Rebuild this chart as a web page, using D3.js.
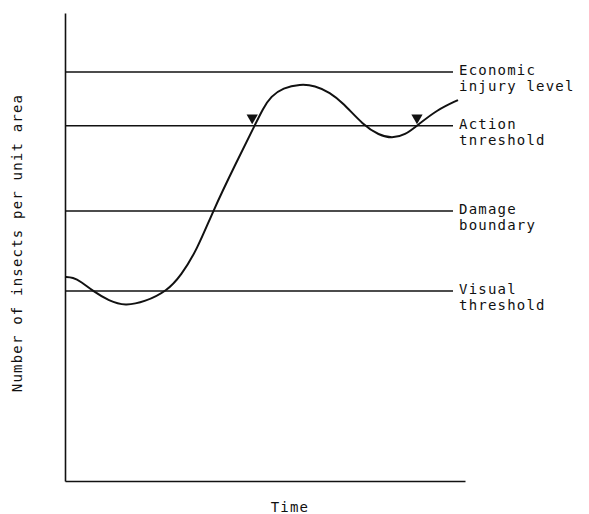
<!DOCTYPE html>
<meta charset="utf-8">
<script src="https://d3js.org/d3.v7.min.js"></script>
<style>
  body { margin: 0; background: #fff; }
  text { font-family: "DejaVu Sans Mono", monospace; font-size: 14px; letter-spacing: 1.2px; fill: #111; }
</style>
<div id="chart"></div>
<script>

    // threshold levels (number of insects, arbitrary units 0-100)
    var levelNames = [["Economic", "injury level"], ["Action", "tnreshold"], ["Damage", "boundary"], ["Visual", "threshold"]];
    var levelValues = [87.4, 75.9, 57.7, 40.6];

    // population curve over time (0-100)
    var timeValues = [0, 2, 4, 7, 11, 15, 20, 25.5, 29, 33, 37, 42.5, 47.5, 49.5, 51.5, 54.5, 58.75, 62.5, 66.25, 69.5, 74.5, 78.5, 81.75, 85, 88.25, 93, 98.25];
    var insectValues = [43.6, 43.5, 42.6, 40.6, 38.5, 37.4, 38.3, 40.6, 43.9, 49.4, 57.7, 67.5, 76.1, 79.6, 82.2, 84, 84.8, 84.5, 83, 80.8, 76.1, 73.9, 73.2, 73.9, 76.1, 79.3, 81.4];

    // times where action threshold is crossed (arrow markers)
    var markerTimes = [46.8, 88];

    var lineEnd = 97;

    var svg = d3.select("#chart")
        .append("svg")
            .attr("width", 589)
            .attr("height", 514);

    var x = d3.scaleLinear()
        .domain([0, 100])
        .range([65, 465]);

    var y = d3.scaleLinear()
        .domain([0, 100])
        .range([481, 13]);

    // axes, no ticks
    svg.append("g")
        .attr("transform", "translate(65,0)")
        .call(d3.axisLeft(y).tickValues([]).tickSizeOuter(0))
        .select(".domain").attr("stroke", "#111").attr("stroke-width", 1.6);

    svg.append("g")
        .attr("transform", "translate(0,481)")
        .call(d3.axisBottom(x).tickValues([]).tickSizeOuter(0))
        .select(".domain").attr("stroke", "#111").attr("stroke-width", 1.6);

    // horizontal level lines
    svg.selectAll(".level")
        .data(levelValues)
        .enter()
        .append("line")
            .attr("class", "level")
            .attr("x1", x(0))
            .attr("x2", x(lineEnd))
            .attr("y1", function(d) { return y(d) })
            .attr("y2", function(d) { return y(d) })
            .attr("stroke", "#111")
            .attr("stroke-width", 1.4);

    // labels
    var labels = svg.selectAll(".lab")
        .data(levelValues)
        .enter()
        .append("text")
            .attr("class", "lab")
            .attr("x", x(lineEnd) + 6)
            .attr("y", function(d) { return y(d) + 3 });
    labels.append("tspan")
        .text(function(d, i) { return levelNames[i][0] });
    labels.append("tspan")
        .attr("x", x(lineEnd) + 6)
        .attr("dy", 16)
        .text(function(d, i) { return levelNames[i][1] });

    // population curve
    var pts = timeValues.map(function(t, i) { return [t, insectValues[i]] });
    svg.append("path")
        .datum(pts)
        .attr("d", d3.line()
            .x(function(d) { return x(d[0]) })
            .y(function(d) { return y(d[1]) })
            .curve(d3.curveBasis))
        .attr("fill", "none")
        .attr("stroke", "#111")
        .attr("stroke-width", 2);

    // triangle markers
    svg.selectAll(".marker")
        .data(markerTimes)
        .enter()
        .append("path")
            .attr("class", "marker")
            .attr("d", d3.symbol().type(d3.symbolTriangle).size(55))
            .attr("transform", function(d) { return "translate(" + x(d) + "," + (y(levelValues[1]) - 8) + ") rotate(180)" })
            .attr("fill", "#111");

    // axis titles
    svg.append("text")
        .attr("x", 290)
        .attr("y", 512)
        .attr("text-anchor", "middle")
        .text("Time");

    svg.append("text")
        .attr("transform", "translate(22,243) rotate(-90)")
        .attr("text-anchor", "middle")
        .text("Number of insects per unit area");

</script>
